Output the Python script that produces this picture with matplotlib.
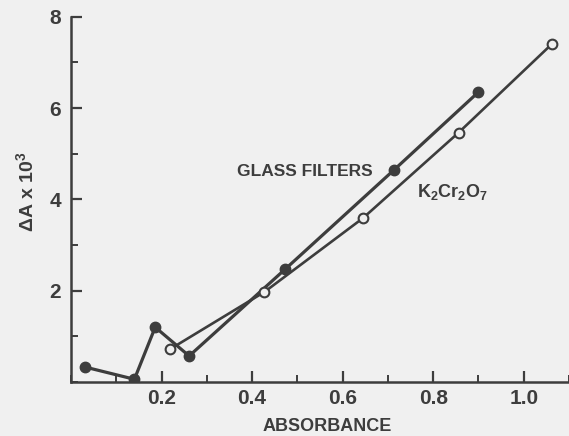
import matplotlib.pyplot as plt
from matplotlib.ticker import MultipleLocator

# glass filters (filled circles)
glass_x = [0.030, 0.140, 0.186, 0.261, 0.473, 0.713, 0.900]
glass_y = [0.33, 0.06, 1.20, 0.57, 2.47, 4.64, 6.35]

# K2Cr2O7 (open circles)
kcr_x = [0.219, 0.427, 0.645, 0.856, 1.062]
kcr_y = [0.72, 1.97, 3.59, 5.46, 7.40]

xticks = [0.2, 0.4, 0.6, 0.8, 1.0]
xticklabels = ['0.2', '0.4', '0.6', '0.8', '1.0']
yticks = [2, 4, 6, 8]

ink = '#3d3d3d'
bg = '#f0f0f0'
plt.rcParams['font.family'] = ['Liberation Sans', 'DejaVu Sans']
plt.rcParams['font.weight'] = 'bold'
plt.rcParams['axes.labelweight'] = 'bold'
plt.rcParams['mathtext.fontset'] = 'custom'
plt.rcParams['mathtext.rm'] = 'Liberation Sans:bold'
plt.rcParams['mathtext.bf'] = 'Liberation Sans:bold'

fig = plt.figure(figsize=(5.69, 4.36), dpi=100, facecolor=bg)
ax = fig.add_axes([71 / 569, 54 / 436, 498 / 569, 365.3 / 436])
ax.set_facecolor(bg)

ax.plot(glass_x, glass_y, color=ink, lw=2.3, marker='o', ms=7.5,
        mfc=ink, mec=ink, zorder=3)
ax.plot(kcr_x, kcr_y, color=ink, lw=1.9, marker='o', ms=7,
        mfc=bg, mec=ink, mew=1.5, zorder=3)

ax.set_xlim(0, 1.1)
ax.set_ylim(0, 8)
for s in ['top', 'right']:
    ax.spines[s].set_visible(False)
for s in ['left', 'bottom']:
    ax.spines[s].set_color(ink)
    ax.spines[s].set_linewidth(1.8)

ax.set_xticks(xticks)
ax.set_xticklabels(xticklabels)
ax.set_yticks(yticks)
ax.xaxis.set_minor_locator(MultipleLocator(0.1))
ax.yaxis.set_minor_locator(MultipleLocator(1))
ax.tick_params(which='major', direction='in', length=8, width=1.6,
               color=ink, labelcolor=ink, labelsize=15)
ax.tick_params(which='minor', direction='in', length=5, width=1.4, color=ink)
ax.tick_params(axis='x', which='major', pad=5)
ax.tick_params(axis='y', which='major', pad=7)

ax.set_xlabel('ABSORBANCE', fontsize=13, color=ink, va='center',
              fontweight='bold')
ax.xaxis.set_label_coords(0.514, -0.123)
ax.set_ylabel(r'$\mathbf{\Delta}$A x 10$^{3}$', fontsize=14, color=ink,
              va='center', fontweight='bold')
ax.yaxis.set_label_coords(-0.088, 0.52)

ax.text(0.516, 4.62, 'GLASS FILTERS', fontsize=12.5, color=ink,
        ha='center', va='center')
ax.text(0.843, 4.05, r'K$_{2}$Cr$_{2}$O$_{7}$', fontsize=13, color=ink,
        ha='center', va='baseline')

fig.savefig('out.png', dpi=100, facecolor=bg)
